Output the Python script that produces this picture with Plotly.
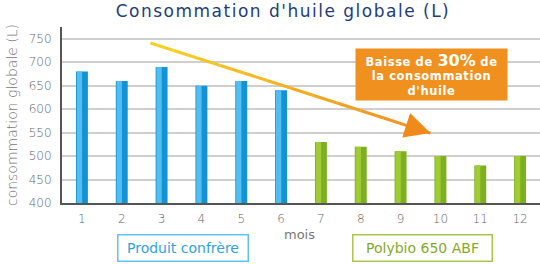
import plotly.graph_objects as go

# Monthly global oil consumption (litres)
months = [1, 2, 3, 4, 5, 6, 7, 8, 9, 10, 11, 12]
competitor_months = [1, 2, 3, 4, 5, 6]
competitor_values = [680, 660, 690, 650, 660, 640]
polybio_months = [7, 8, 9, 10, 11, 12]
polybio_values = [530, 520, 510, 500, 480, 500]
y_ticks = [400, 450, 500, 550, 600, 650, 700, 750]

# Trend arrow endpoints (data coordinates)
trend_start = (2.72, 741)
trend_end = (9.75, 549)

FONT = "DejaVu Sans"
BAR_W = 0.30

fig = go.Figure()

# Blue bars: dark base plus a lighter strip on the left for a cylindrical look
fig.add_trace(go.Bar(x=competitor_months, y=competitor_values, width=BAR_W,
                     marker=dict(color="#1193d6", line=dict(width=0)),
                     hoverinfo="skip"))
fig.add_trace(go.Bar(x=competitor_months, y=competitor_values, width=BAR_W * 0.45,
                     offset=-BAR_W / 2 + 0.02,
                     marker=dict(color="#52bdf0", line=dict(width=0)),
                     hoverinfo="skip"))
# Green bars
fig.add_trace(go.Bar(x=polybio_months, y=polybio_values, width=BAR_W,
                     marker=dict(color="#7cb020", line=dict(width=0)),
                     hoverinfo="skip"))
fig.add_trace(go.Bar(x=polybio_months, y=polybio_values, width=BAR_W * 0.45,
                     offset=-BAR_W / 2 + 0.02,
                     marker=dict(color="#a0cb34", line=dict(width=0)),
                     hoverinfo="skip"))

# Trend arrow: yellow-to-orange segments, arrowhead at the end
n_seg = 12
c0 = (245, 212, 40)
c1 = (240, 140, 30)
x0, y0 = trend_start
x1, y1 = trend_end
for i in range(n_seg):
    t0 = i / n_seg
    t1 = (i + 1) / n_seg
    tm = (t0 + t1) / 2
    col = tuple(round(c0[k] + (c1[k] - c0[k]) * tm) for k in range(3))
    fig.add_shape(type="line",
                  x0=x0 + (x1 - x0) * t0, y0=y0 + (y1 - y0) * t0,
                  x1=x0 + (x1 - x0) * t1, y1=y0 + (y1 - y0) * t1,
                  line=dict(color="rgb(%d,%d,%d)" % col, width=3))
fig.add_annotation(x=x1, y=y1, ax=x1 - (x1 - x0) * 0.06, ay=y1 - (y1 - y0) * 0.06,
                   xref="x", yref="y", axref="x", ayref="y",
                   showarrow=True, arrowhead=2, arrowsize=1.7, arrowwidth=3,
                   arrowcolor="#f08a1a", text="")

# Callout box
fig.add_annotation(
    x=431.5, y=74.5, xref="paper", yref="paper", showarrow=False,
    text="<b><span style='letter-spacing:0.6px'>Baisse de </span>"
         "<span style='font-size:16px'>30%</span>"
         "<span style='letter-spacing:0.6px'> de</span><br>"
         "<span style='letter-spacing:0.6px'>la consommation</span><br>"
         "<span style='letter-spacing:0.6px'>d'huile</span></b>",
    font=dict(family=FONT, size=11.5, color="white"),
    bgcolor="#f0901e", width=145, height=45, borderpad=3, align="center")

# Legend-style labels
fig.add_annotation(x=182.5, y=247.5, xref="paper", yref="paper", showarrow=False,
                   text="Produit confrère", font=dict(family=FONT, size=14, color="#2fa3dc"),
                   bordercolor="#63c1ea", borderwidth=1.5, width=127, height=23,
                   bgcolor="white")
fig.add_annotation(x=422, y=247.5, xref="paper", yref="paper", showarrow=False,
                   text="Polybio 650 ABF", font=dict(family=FONT, size=14, color="#86a92a"),
                   bordercolor="#a9c84a", borderwidth=1.5, width=136, height=23,
                   bgcolor="white")

# x-axis title
fig.add_annotation(x=299, y=234, xref="paper", yref="paper", showarrow=False,
                   text="mois", font=dict(family=FONT, size=13, color="#777777"))

# Convert pixel positions of annotations to paper coordinates
W, H = 540, 264
M = dict(l=62, r=0, t=27, b=61)
pw = W - M["l"] - M["r"]
ph = H - M["t"] - M["b"]
for a in fig.layout.annotations:
    if a.xref == "paper":
        a.x = (a.x - M["l"]) / pw
        a.y = (H - M["b"] - a.y) / ph
        a.xanchor = "center"
        a.yanchor = "middle"

fig.update_layout(
    width=W, height=H, margin=M,
    barmode="overlay", showlegend=False,
    plot_bgcolor="white", paper_bgcolor="white",
    title=dict(text="<span style='letter-spacing:1.5px'>Consommation d'huile globale (L)</span>",
               x=0.524, xanchor="center",
               y=1 - 11 / H, yanchor="middle", xref="container", yref="container",
               font=dict(family=FONT, size=17, color="#1f3d7a")),
    xaxis=dict(range=[0.5, 12.5], tickvals=months, ticktext=[str(m) for m in months],
               showgrid=False, showline=True, linecolor="#555555", linewidth=2,
               ticks="", ticklabelstandoff=4,
               tickfont=dict(family=FONT, size=12, color="#666666", weight=200)),
    yaxis=dict(range=[400, 775], tickvals=y_ticks, showgrid=True,
               gridcolor="#cfcfcf", gridwidth=1.5, zeroline=False,
               showline=True, linecolor="#555555", linewidth=2, ticks="",
               ticklabelstandoff=6,
               tickfont=dict(family=FONT, size=12, color="#666666", weight=200),
               title=dict(text="consommation globale (L)", standoff=8,
                          font=dict(family=FONT, size=14, color="#777777", weight=200))),
)

fig.write_html("out.html")
